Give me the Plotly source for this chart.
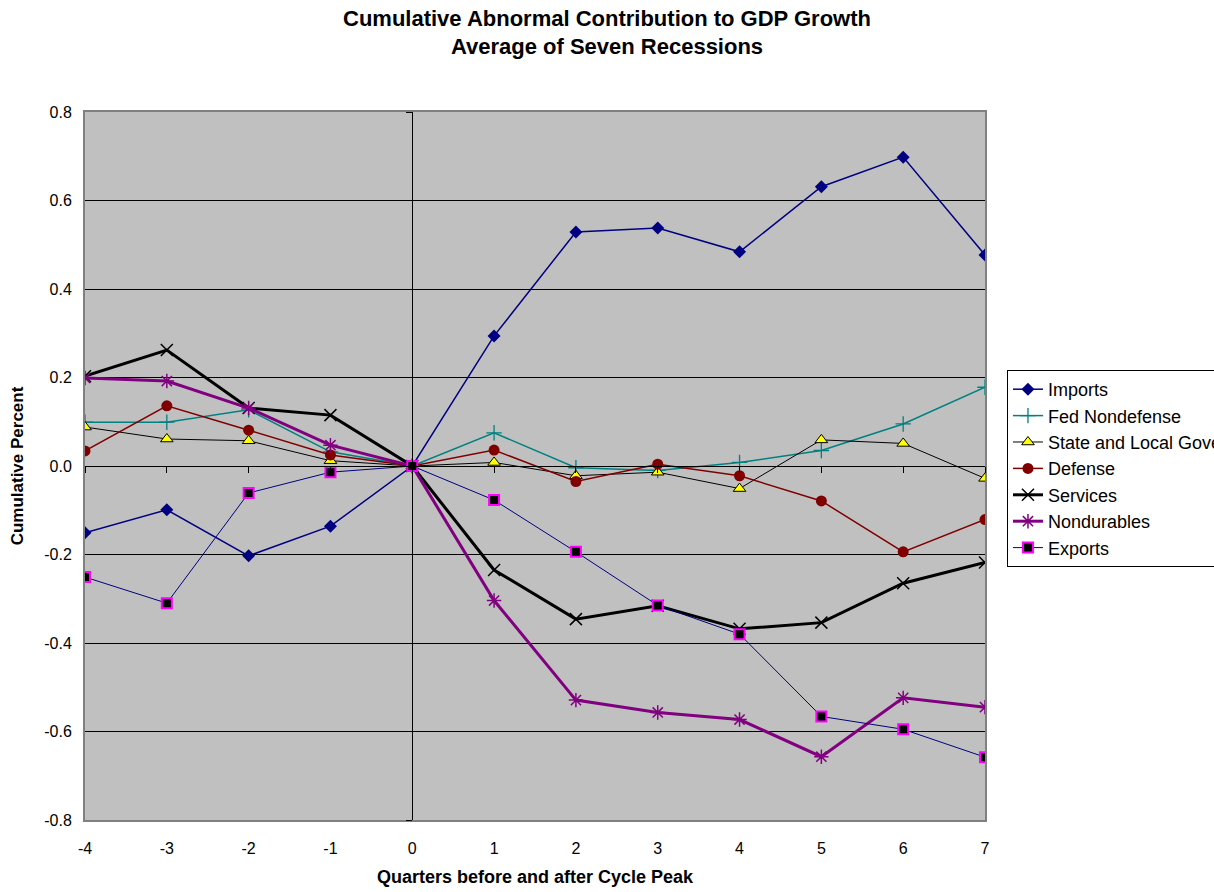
import plotly.graph_objects as go

# Quarters relative to the business-cycle peak
quarters = [-4, -3, -2, -1, 0, 1, 2, 3, 4, 5, 6, 7]

# Cumulative abnormal contribution to GDP growth (percent), average of seven recessions
imports = [-0.151, -0.099, -0.203, -0.136, 0.0, 0.294, 0.529, 0.538, 0.484, 0.631, 0.698, 0.477]
fed_nondefense = [0.099, 0.099, 0.127, 0.032, 0.0, 0.075, -0.004, -0.010, 0.008, 0.035, 0.095, 0.178]
state_local = [0.088, 0.061, 0.057, 0.012, 0.0, 0.008, -0.022, -0.014, -0.051, 0.059, 0.051, -0.028]
defense = [0.034, 0.136, 0.081, 0.025, 0.0, 0.036, -0.035, 0.004, -0.022, -0.079, -0.194, -0.121]
services = [0.203, 0.262, 0.131, 0.115, 0.0, -0.235, -0.346, -0.316, -0.368, -0.354, -0.265, -0.218]
nondurables = [0.199, 0.192, 0.131, 0.047, 0.0, -0.304, -0.529, -0.557, -0.573, -0.657, -0.524, -0.545]
exports = [-0.251, -0.310, -0.061, -0.014, 0.0, -0.077, -0.194, -0.315, -0.380, -0.566, -0.595, -0.658]

x_ticks = [-4, -3, -2, -1, 0, 1, 2, 3, 4, 5, 6, 7]
x_tick_labels = ["-4", "-3", "-2", "-1", "0", "1", "2", "3", "4", "5", "6", "7"]
y_ticks = [-0.8, -0.6, -0.4, -0.2, 0.0, 0.2, 0.4, 0.6, 0.8]
y_tick_labels = ["-0.8", "-0.6", "-0.4", "-0.2", "0.0", "0.2", "0.4", "0.6", "0.8"]

FONT = "Arial, Liberation Sans, sans-serif"

series = [
    ("Imports", imports, dict(color="#000080", width=1.5),
     dict(symbol="diamond", size=10, color="#000080")),
    ("Fed Nondefense", fed_nondefense, dict(color="#008080", width=1.5),
     dict(symbol="cross-thin", size=11, color="#008080", line=dict(color="#008080", width=1.3))),
    ("State and Local Government", state_local, dict(color="#000000", width=1),
     dict(symbol="triangle-up", size=11, color="#FFFF00", line=dict(color="#000000", width=1))),
    ("Defense", defense, dict(color="#800000", width=1.5),
     dict(symbol="circle", size=11, color="#800000")),
    ("Services", services, dict(color="#000000", width=3),
     dict(symbol="x-thin", size=12, color="#000000", line=dict(color="#000000", width=1.5))),
    ("Nondurables", nondurables, dict(color="#800080", width=3),
     dict(symbol="asterisk", size=12, color="#800080", line=dict(color="#800080", width=1.5))),
    ("Exports", exports, dict(color="#000080", width=1),
     dict(symbol="square", size=10, color="#000000", line=dict(color="#FF00FF", width=2))),
]

fig = go.Figure()
for name, values, line, marker in series:
    fig.add_trace(go.Scatter(x=quarters, y=values, name=name, mode="lines+markers",
                             line=line, marker=marker, xaxis="x", yaxis="y"))

# Empty traces so the crossing axes (through x=0 and y=0) get drawn
fig.add_trace(go.Scatter(x=[], y=[], xaxis="x2", yaxis="y", showlegend=False, hoverinfo="skip"))
fig.add_trace(go.Scatter(x=[], y=[], xaxis="x", yaxis="y2", showlegend=False, hoverinfo="skip"))

x_range = [-4, 7]
y_range = [-0.8, 0.8]

fig.update_layout(
    width=1214, height=892,
    margin=dict(l=85, r=229, t=112, b=72, autoexpand=False),
    paper_bgcolor="#FFFFFF",
    plot_bgcolor="#C0C0C0",
    font=dict(family=FONT, color="#000000", size=16),
    title=dict(
        text="<b>Cumulative Abnormal Contribution to GDP Growth<br>Average of Seven Recessions</b>",
        x=0.5, xref="container", xanchor="center",
        y=0.9714, yref="container", yanchor="top",
        font=dict(family=FONT, size=22, color="#000000"),
    ),
    xaxis=dict(
        range=x_range, tickmode="array", tickvals=x_ticks, ticktext=x_tick_labels,
        showgrid=False, zeroline=False,
        showline=True, mirror=True, linecolor="#808080", linewidth=2,
        ticks="", ticklabelstandoff=13,
        tickfont=dict(family=FONT, size=16),
        title=dict(text="<b>Quarters before and after Cycle Peak</b>", standoff=14,
                   font=dict(family=FONT, size=18)),
    ),
    yaxis=dict(
        range=y_range, tickmode="array", tickvals=y_ticks, ticktext=y_tick_labels,
        showgrid=True, gridcolor="#000000", gridwidth=1, zeroline=False,
        showline=True, mirror=True, linecolor="#808080", linewidth=2,
        ticks="", ticklabelstandoff=8,
        tickfont=dict(family=FONT, size=16),
        title=dict(text="<b>Cumulative Percent</b>", standoff=16,
                   font=dict(family=FONT, size=17)),
    ),
    # Horizontal axis line crossing at y = 0, with tick marks
    xaxis2=dict(
        overlaying="x", anchor="free", position=0.5, side="bottom",
        range=x_range, tickmode="array", tickvals=x_ticks,
        showticklabels=False, showgrid=False, zeroline=False,
        showline=True, linecolor="#000000", linewidth=1,
        ticks="outside", ticklen=6, tickcolor="#000000", tickwidth=1,
    ),
    # Vertical axis line crossing at x = 0, with tick marks
    yaxis2=dict(
        overlaying="y", anchor="free", position=4 / 11, side="left",
        range=y_range, tickmode="array", tickvals=y_ticks,
        showticklabels=False, showgrid=False, zeroline=False,
        showline=True, linecolor="#000000", linewidth=1,
        ticks="outside", ticklen=6, tickcolor="#000000", tickwidth=1,
    ),
    legend=dict(
        x=1.0244, xanchor="left", y=0.6356, yanchor="top",
        bgcolor="#FFFFFF", bordercolor="#000000", borderwidth=1,
        font=dict(family=FONT, size=18, color="#000000"),
        tracegroupgap=0,
    ),
    showlegend=True,
)

fig.write_html("out.html")
